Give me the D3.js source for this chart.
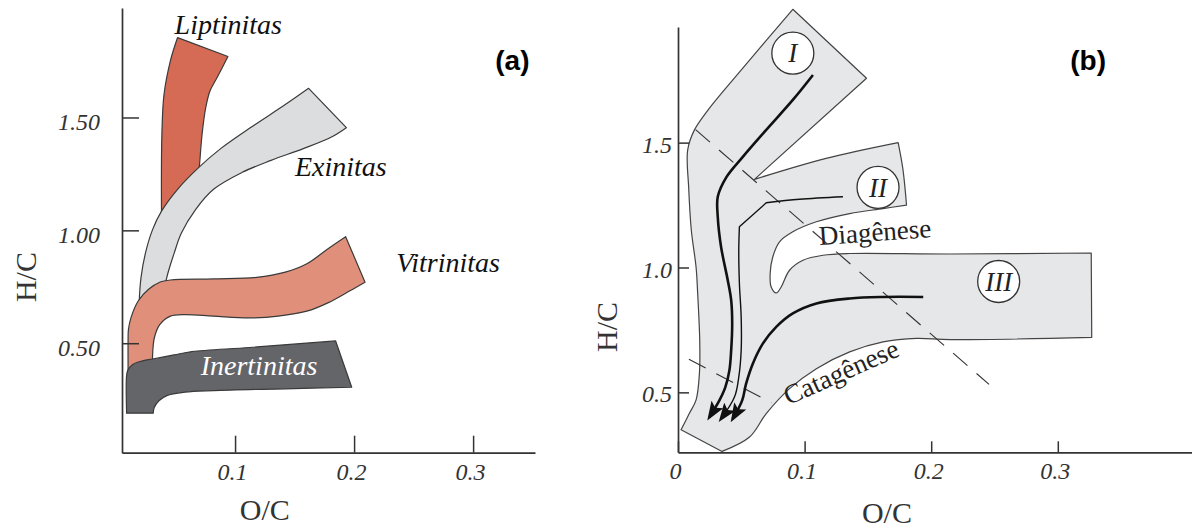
<!DOCTYPE html>
<html lang="pt">
<head>
<meta charset="UTF-8">
<title>Diagrama de van Krevelen</title>
<script src="https://d3js.org/d3.v7.min.js"></script>
<style>
  body { margin: 0; background: #fff; }
  svg { display: block; }
  .axis-title { font-family: "Liberation Serif", serif; fill: #333; font-size: 30px; }
  .maceral { font-family: "Liberation Serif", serif; font-style: italic; font-size: 28px; }
  .stage { font-family: "Liberation Serif", serif; font-size: 27px; fill: #222; }
  .roman { font-family: "Liberation Serif", serif; font-style: italic; font-size: 27px; fill: #222; }
  .panel-tag { font-family: "Liberation Sans", Arial, sans-serif; font-weight: bold; font-size: 28px; }
</style>
</head>
<body>
<div id="chart"></div>
<script>
// ---- (a) maceral bands, outlines as edges of [O/C, H/C] ----
const liptinitas = [
  [[0.0517, 1.854], [0.094, 1.77]],
  [[0.094, 1.77], [0.0849, 1.677], [0.0789, 1.617], [0.0753, 1.542], [0.0722, 1.422], [0.0698, 1.272], [0.068, 1.2]],
  [[0.068, 1.2], [0.05, 1.1], [0.0382, 1.05]],
  [[0.0382, 1.05], [0.0385, 1.422], [0.0403, 1.602], [0.0457, 1.752], [0.0517, 1.854]]
];
const exinitas = [
  [[0.1618, 1.629], [0.1935, 1.455]],
  [[0.1935, 1.455], [0.1814, 1.415], [0.1573, 1.362], [0.1302, 1.31], [0.106, 1.257], [0.0819, 1.182], [0.0668, 1.092],
   [0.0548, 0.987], [0.0487, 0.897], [0.0442, 0.822], [0.0412, 0.762], [0.0382, 0.702]],
  [[0.0382, 0.702], [0.0195, 0.66]],
  [[0.0195, 0.66], [0.0195, 0.687], [0.021, 0.792], [0.0246, 0.897], [0.0306, 1.002], [0.0382, 1.085], [0.0517, 1.182],
   [0.0698, 1.28], [0.0879, 1.362], [0.1121, 1.452], [0.1422, 1.557], [0.1618, 1.629]]
];
const vitrinitas = [
  [[0.1929, 0.972], [0.2092, 0.77]],
  [[0.2092, 0.77], [0.1965, 0.732], [0.1784, 0.68], [0.1603, 0.642], [0.1362, 0.62], [0.1121, 0.612], [0.0819, 0.62],
   [0.0578, 0.627], [0.0457, 0.62], [0.0367, 0.582], [0.0321, 0.522], [0.0306, 0.433], [0.0306, 0.373]],
  [[0.0306, 0.373], [0.0101, 0.36]],
  [[0.0101, 0.36], [0.0101, 0.403], [0.0101, 0.507], [0.0104, 0.56], [0.0125, 0.612], [0.0186, 0.687], [0.0276, 0.74],
   [0.0367, 0.77], [0.0457, 0.78], [0.0819, 0.785], [0.1181, 0.792], [0.1422, 0.815], [0.1603, 0.852], [0.1784, 0.92], [0.1929, 0.972]]
];
const inertinitas = [
  [[0.1845, 0.51], [0.198, 0.305]],
  [[0.198, 0.305], [0.1422, 0.298], [0.0819, 0.29], [0.0578, 0.283], [0.0427, 0.268], [0.036, 0.245], [0.0321, 0.215], [0.0312, 0.19]],
  [[0.0312, 0.19], [0.0089, 0.19]],
  [[0.0089, 0.19], [0.0089, 0.358], [0.0101, 0.383], [0.014, 0.406], [0.0216, 0.421], [0.0306, 0.43], [0.0487, 0.448],
   [0.0638, 0.463], [0.1121, 0.481], [0.1845, 0.51]]
];
const maceralNames = ["Liptinitas", "Exinitas", "Vitrinitas", "Inertinitas"];
const maceralLabelPos = [[0.0492, 1.871], [0.1503, 1.239], [0.2354, 0.816], [0.0711, 0.359]];

// ---- (b) kerogen field I / II / III ----
const kerogenField = [
  [[0.0348, 0.2635], [0.0024, 0.35]],
  [[0.0024, 0.35], [0.0089, 0.415], [0.0143, 0.47], [0.0169, 0.575], [0.0172, 0.7], [0.0155, 0.9], [0.0143, 1.0],
   [0.0105, 1.15], [0.0084, 1.323], [0.0076, 1.469], [0.0129, 1.55], [0.0244, 1.635], [0.0512, 1.798], [0.0907, 2.034]],
  [[0.0907, 2.034], [0.1489, 1.758]],
  [[0.1489, 1.758], [0.0604, 1.353]],
  [[0.0604, 1.353], [0.117, 1.437], [0.1739, 1.5]],
  [[0.1739, 1.5], [0.1777, 1.392], [0.1805, 1.25]],
  [[0.1805, 1.25], [0.162, 1.236], [0.1356, 1.216], [0.1093, 1.183], [0.0907, 1.143], [0.0802, 1.103], [0.0749, 1.043],
   [0.0728, 0.976], [0.0736, 0.922], [0.0776, 0.898], [0.0815, 0.922], [0.0881, 0.989], [0.0987, 1.029], [0.1145, 1.049],
   [0.1356, 1.056], [0.215, 1.054], [0.3264, 1.058]],
  [[0.3264, 1.058], [0.3268, 0.72]],
  [[0.3268, 0.72], [0.215, 0.711], [0.1884, 0.716], [0.162, 0.702], [0.1356, 0.662], [0.1093, 0.595], [0.0881, 0.515],
   [0.0697, 0.415], [0.0565, 0.321], [0.0348, 0.2635]]
];
const trendI = [[[0.1066, 1.771], [0.0907, 1.671], [0.0697, 1.551], [0.0512, 1.443], [0.038, 1.36], [0.0314, 1.283],
  [0.0314, 1.203], [0.034, 1.083], [0.0393, 0.949], [0.042, 0.869], [0.0428, 0.775], [0.042, 0.668], [0.0406, 0.588],
  [0.0374, 0.521], [0.0327, 0.468], [0.0248, 0.401]]];
const trendII = [
  [[0.1303, 1.283], [0.096, 1.273], [0.0697, 1.259]],
  [[0.0697, 1.259], [0.0485, 1.163]],
  [[0.0485, 1.163], [0.048, 1.069], [0.0485, 0.936], [0.0499, 0.802], [0.0499, 0.668], [0.048, 0.561], [0.0446, 0.481], [0.034, 0.394]]
];
const trendIII = [[[0.1937, 0.882], [0.162, 0.882], [0.1356, 0.876], [0.1093, 0.856], [0.0907, 0.816], [0.0776, 0.762],
  [0.067, 0.695], [0.0591, 0.615], [0.0538, 0.535], [0.0507, 0.468], [0.0432, 0.394]]];
const diageneseLine = [[0.0139, 1.552], [0.2457, 0.532]];
const catageneseLine = [[0.0086, 0.633], [0.0738, 0.458]];
const kerogenTypes = ["I", "II", "III"];
const kerogenTypePos = [[0.0907, 1.858], [0.158, 1.321], [0.2533, 0.944]];
const stageNames = ["Diagênese", "Catagênese"];
const stageLabelPos = [[0.1118, 1.09], [0.0873, 0.448]];

// ---- axes ----
const hcTicksA = [0.5, 1.0, 1.5];
const ocTicksA = [0.1, 0.2, 0.3];
const hcTicksB = [0.5, 1.0, 1.5];
const ocTicksB = [0, 0.1, 0.2, 0.3];

const W = 1192, H = 530;
const svg = d3.select("#chart").append("svg").attr("width", W).attr("height", H);
svg.append("rect").attr("width", W).attr("height", H).attr("fill", "#fff");

const xA = d3.scaleLinear().domain([0.005, 0.352]).range([122, 535]);
const yA = d3.scaleLinear().domain([0.015, 1.985]).range([452.7, 8]);
const xB = d3.scaleLinear().domain([0, 0.406]).range([678, 1192]);
const yB = d3.scaleLinear().domain([0.26, 1.963]).range([452.3, 27]);

// joins smooth edges with sharp corners between them
function outline(edges, x, y, closed) {
  const smooth = d3.line().x(d => x(d[0])).y(d => y(d[1])).curve(d3.curveCatmullRom.alpha(0.5));
  let s = "";
  edges.forEach((e, i) => {
    const p = smooth(e);
    s += i === 0 ? p : "L" + p.slice(1);
  });
  return closed ? s + "Z" : s;
}

function drawAxes(x, y, ocTicks, hcTicks, ocFmt, hcFmt, tick, yPad, yDy) {
  const gx = svg.append("g")
    .attr("transform", `translate(0,${y.range()[0]})`)
    .call(d3.axisBottom(x).tickValues(ocTicks).tickSizeInner(-tick).tickSizeOuter(0).tickFormat(ocFmt));
  const gy = svg.append("g")
    .attr("transform", `translate(${x.range()[0]},0)`)
    .call(d3.axisLeft(y).tickValues(hcTicks).tickSizeInner(-tick).tickSizeOuter(0).tickPadding(yPad).tickFormat(hcFmt));
  [gx, gy].forEach(g => {
    g.attr("color", "#333")
      .attr("font-family", "Liberation Serif, serif")
      .attr("font-size", 24)
      .attr("font-style", "italic");
    g.selectAll("path.domain").attr("stroke-width", 1.7);
    g.selectAll(".tick line").attr("stroke-width", 1.5);
  });
  gx.selectAll(".tick text").attr("y", 27).attr("dy", 0).attr("dx", -3);
  gy.selectAll(".tick text").attr("dy", yDy);
}

// ===== panel (a) =====
const aFills = ["#d56b55", "#dcdddf", "#e0907a", "#646569"];
[liptinitas, exinitas, vitrinitas, inertinitas].forEach((shape, i) => {
  svg.append("path")
    .attr("d", outline(shape, xA, yA, true))
    .attr("fill", aFills[i])
    .attr("stroke", "#3a3a3a")
    .attr("stroke-width", 1.2)
    .attr("stroke-linejoin", "round");
});

drawAxes(xA, yA, ocTicksA, hcTicksA, d3.format(".1f"), d3.format(".2f"), 17, 22, "0.5em");

svg.selectAll(".maceral")
  .data(maceralNames)
  .join("text")
  .attr("class", "maceral")
  .attr("x", (d, i) => xA(maceralLabelPos[i][0]))
  .attr("y", (d, i) => yA(maceralLabelPos[i][1]))
  .attr("fill", d => d === "Inertinitas" ? "#fff" : "#111")
  .text(d => d);

svg.append("text").attr("class", "axis-title")
  .attr("x", xA(0.125)).attr("y", yA.range()[0] + 67)
  .attr("text-anchor", "middle").text("O/C");
svg.append("text").attr("class", "axis-title")
  .attr("transform", `translate(${xA.range()[0] - 86},${yA(0.793)}) rotate(-90)`)
  .attr("text-anchor", "middle").text("H/C");
svg.append("text").attr("class", "panel-tag")
  .attr("x", xA(0.333)).attr("y", yA(1.711))
  .attr("text-anchor", "middle").text("(a)");

// ===== panel (b) =====
svg.append("path")
  .attr("d", outline(kerogenField, xB, yB, true))
  .attr("fill", "#e6e7e8")
  .attr("stroke", "#444")
  .attr("stroke-width", 1.2)
  .attr("stroke-linejoin", "round");

[diageneseLine, catageneseLine].forEach(l => {
  svg.append("path")
    .attr("d", d3.line().x(d => xB(d[0])).y(d => yB(d[1]))(l))
    .attr("fill", "none")
    .attr("stroke", "#333")
    .attr("stroke-width", 1.1)
    .attr("stroke-dasharray", "19,12");
});

svg.append("defs").append("marker")
  .attr("id", "arrow")
  .attr("viewBox", "0 0 19 14")
  .attr("refX", 15).attr("refY", 7)
  .attr("markerUnits", "userSpaceOnUse")
  .attr("markerWidth", 19).attr("markerHeight", 14)
  .attr("orient", "auto")
  .append("path").attr("d", "M0,0L19,7L0,14L4,7Z").attr("fill", "#111");

[[trendI, 2.6], [trendII, 1.4], [trendIII, 2.6]].forEach(([t, w]) => {
  svg.append("path")
    .attr("d", outline(t, xB, yB, false))
    .attr("fill", "none")
    .attr("stroke", "#111")
    .attr("stroke-width", w)
    .attr("stroke-linejoin", "round")
    .attr("marker-end", "url(#arrow)");
});

const types = svg.selectAll(".ktype").data(kerogenTypes).join("g")
  .attr("class", "ktype")
  .attr("transform", (d, i) => `translate(${xB(kerogenTypePos[i][0])},${yB(kerogenTypePos[i][1])})`);
types.append("circle").attr("r", 21).attr("fill", "#fff").attr("stroke", "#333").attr("stroke-width", 1.3);
types.append("text").attr("class", "roman").attr("text-anchor", "middle").attr("dy", "0.34em").text(d => d);

const stageAngle = [-4, -24];
svg.selectAll(".stage").data(stageNames).join("text")
  .attr("class", "stage")
  .attr("transform", (d, i) => `translate(${xB(stageLabelPos[i][0])},${yB(stageLabelPos[i][1])}) rotate(${stageAngle[i]})`)
  .text(d => d);

drawAxes(xB, yB, ocTicksB, hcTicksB, d => d === 0 ? "0" : d3.format(".1f")(d), d3.format(".1f"), 11, 6, "0.4em");

svg.append("text").attr("class", "axis-title")
  .attr("x", xB(0.165)).attr("y", yB.range()[0] + 71)
  .attr("text-anchor", "middle").text("O/C");
svg.append("text").attr("class", "axis-title")
  .attr("transform", `translate(${xB.range()[0] - 61},${yB(0.762)}) rotate(-90)`)
  .attr("text-anchor", "middle").text("H/C");
svg.append("text").attr("class", "panel-tag")
  .attr("x", xB(0.324)).attr("y", yB(1.791))
  .attr("text-anchor", "middle").text("(b)");
</script>
</body>
</html>
